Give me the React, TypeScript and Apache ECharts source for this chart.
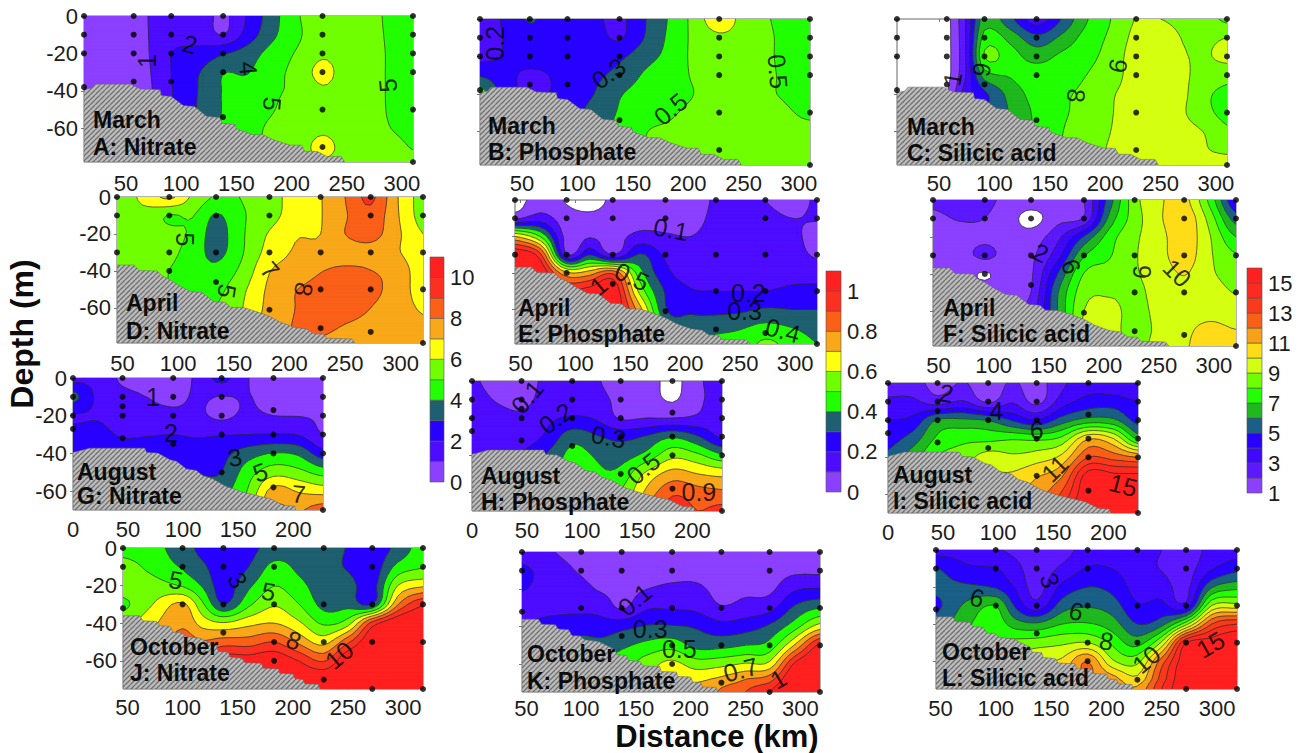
import React, { useEffect, useRef } from "react";
import * as echarts from "echarts";

// ---- scales -------------------------------------------------------------
const nitrateLevels = [0, 1, 2, 3, 4, 5, 6, 7, 8, 9, 10];
const phosphateLevels = [0, 0.1, 0.2, 0.3, 0.4, 0.5, 0.6, 0.7, 0.8, 0.9, 1.0];
const silicicLevels = [1, 2, 3, 4, 5, 6, 7, 8, 9, 10, 11, 12, 13, 14, 15];
const elevenColors = ["#8c40ff", "#4d0cff", "#2800ff", "#1f6070", "#22ff00", "#70ff00", "#ffff10", "#f8a818", "#fa6018", "#fc3020", "#ff2020"];
const fifteenColors = ["#8c40ff", "#5c18ff", "#4008ff", "#2800ff", "#1a5f85", "#1fb81f", "#22ff00", "#70ff00", "#d4ff10", "#ffdc18", "#f8a018", "#f86018", "#fb3a1a", "#fc2a20", "#ff2020"];
const nitrateBarTicks = [0, 2, 4, 6, 8, 10];
const phosphateBarTicks = [0, 0.2, 0.4, 0.6, 0.8, 1];
const silicicBarTicks = [1, 3, 5, 7, 9, 11, 13, 15];

// ---- sampling columns (km) and rows (depth, m) per month ----------------
const marchCols = [12, 35, 57, 74, 91, 115, 138, 160, 183, 205, 228, 250, 270, 290, 310];
const marchDepths = [0, -10, -20, -30, -40, -50, -60, -70, -78];
const aprilCols = [45, 68, 92, 113, 134, 158, 182, 205, 228, 250, 273, 297, 320];
const aprilDepths = [0, -10, -20, -30, -40, -50, -60, -70, -79];
const augustCols = [0, 23, 45, 68, 91, 113, 135, 158, 182, 205, 227];
const augustDepths = [0, -10, -20, -30, -40, -50, -60, -70];
const octoberCols = [46, 73, 100, 118, 137, 160, 183, 205, 228, 250, 272, 295, 318];
const octoberDepths = [0, -10, -20, -30, -40, -50, -60, -70, -75];

const marchTicks = [50, 100, 150, 200, 250, 300];
const augustTicks = [0, 50, 100, 150, 200];
const depthTicks = [0, -20, -40, -60];

// ---- bottom topography ---------------------------------------------------
const marchTerrain = [[12, -39.4], [19, -38.5], [22, -36.4], [54, -36.4], [63, -39], [81, -39.4], [82, -42.5], [91, -43], [102, -47.8], [112, -48.3], [123, -53.6], [135, -54.2], [137, -57.2], [149, -58], [150, -60.2], [165, -63.4], [174, -63.4], [183, -66], [199, -69], [209, -69], [212, -72.3], [223, -72.3], [232, -75], [245, -75], [248, -78], [12, -78]];
const aprilTerrain = [[45, -36.8], [60, -36.8], [65, -39.8], [81, -40], [85, -42.5], [93, -44.9], [100, -47.6], [111, -51.2], [121, -51.5], [132, -56.6], [142, -56.9], [147, -59.6], [159, -59.8], [170.5, -62], [182.5, -64.7], [191.5, -67.7], [205, -70.6], [215.5, -71.4], [221.5, -74], [230.5, -74.2], [233.5, -76.4], [256, -76.8], [259, -79], [45, -79]];
const augustTerrain = [[0, -39.5], [15, -37.2], [65, -37.2], [67, -39.5], [77, -39.8], [88, -43.3], [94, -44.2], [103, -48.2], [112, -49], [118, -51.8], [127, -53.5], [139, -57.5], [154.5, -60.5], [167, -62.3], [179, -64], [191, -67.5], [201.5, -68], [202, -70], [0, -70]];
const octoberTerrain = [[46, -36], [61, -36], [64, -38.7], [76.5, -39], [79, -41.2], [88.6, -41.7], [91.7, -44.8], [99, -45], [103, -47], [116, -48], [131, -52.4], [132.4, -55], [141.5, -55.4], [143, -58], [153.6, -58.6], [156.6, -61], [171.7, -61.3], [173, -64], [187, -64.3], [188, -66.6], [200, -67], [202, -69.6], [209, -70], [211, -72.3], [223, -72.5], [224.5, -75], [46, -75]];

// ---- sampling stations ---------------------------------------------------
const marchStations = [[12, 0], [12, -10], [12, -20], [12, -38], [57, 0], [57, -10], [57, -20], [57, -35], [91, 0], [91, -10], [91, -20], [91, -35], [138, 0], [138, -10], [138, -20], [138, -30], [138, -54], [228, 0], [228, -10], [228, -20], [228, -30], [228, -50], [228, -70], [310, 0], [310, -10], [310, -20], [310, -30], [310, -50], [310, -78]];
const aprilStations = [[45, 0], [45, -10], [45, -30], [92, 0], [92, -10], [92, -30], [92, -40], [134, 0], [134, -10], [134, -30], [134, -46], [182, 0], [182, -10], [182, -30], [182, -61], [228, 0], [228, -30], [228, -50], [228, -71], [273, 0], [273, -10], [273, -30], [273, -50], [273, -73], [320, 0], [320, -10], [320, -30], [320, -50], [320, -79]];
const augustStations = [[0, 0], [0, -10], [0, -20], [0, -27], [45, 0], [45, -10], [45, -15], [45, -20], [45, -32], [91, 0], [91, -10], [91, -20], [91, -35], [135, 0], [135, -10], [135, -20], [135, -30], [135, -50], [182, 0], [182, -17], [182, -30], [182, -40], [182, -58], [227, 0], [227, -10], [227, -20], [227, -30], [227, -40], [227, -70]];
const octoberStations = [[46, 0], [46, -10], [46, -32], [100, 0], [100, -10], [100, -30], [137, 0], [137, -10], [137, -30], [137, -45], [183, 0], [183, -10], [183, -30], [183, -50], [183, -60], [228, 0], [228, -30], [228, -50], [228, -70], [272, 0], [272, -10], [272, -30], [272, -50], [272, -75], [318, 0], [318, -10], [318, -30], [318, -50], [318, -75]];

// ---- concentrations read from the sections --------------------------------
const marchNitrate = [
  [.4, .5, .7, 1.1, 1.5, 1.6, .8, 2.1, 3.6, 4.9, 5.5, 5.5, 5.3, 4.8, 4.5],
  [.4, .5, .7, 1.1, 1.7, 1.7, 1.0, 2.4, 3.8, 4.8, 5.7, 5.5, 5.3, 4.85, 4.5],
  [.4, .5, .7, 1.1, 2.0, 2.25, 2.9, 3.5, 4.4, 5.1, 5.85, 5.5, 5.3, 4.9, 4.6],
  [.4, .5, .7, 1.05, 2.0, 2.9, 3.95, 3.95, 4.7, 5.3, 6.3, 5.5, 5.3, 4.9, 4.6],
  [.4, .5, .7, 1.0, 1.95, 3.0, 4.05, 4.3, 4.85, 5.2, 5.85, 5.5, 5.3, 4.9, 4.6],
  [.4, .5, .7, 1.0, 1.9, 3.05, 4.05, 4.4, 4.95, 5.4, 5.6, 5.5, 5.3, 4.92, 4.7],
  [.4, .5, .7, 1.0, 1.9, 3.0, 4.1, 4.6, 5.2, 5.4, 5.8, 5.5, 5.3, 5.0, 4.8],
  [.4, .5, .7, 1.0, 1.9, 3.0, 4.1, 4.7, 5.2, 5.5, 6.3, 5.6, 5.4, 5.2, 4.97],
  [.4, .5, .7, 1.0, 1.9, 3.0, 4.1, 4.7, 5.2, 5.5, 5.9, 5.6, 5.4, 5.2, 5.1],
];
const marchPhosphate = [
  [.13, .22, .31, .26, .25, .22, .18, .29, .41, .53, .67, .56, .51, .47, .45],
  [.12, .21, .25, .25, .25, .24, .19, .30, .42, .52, .58, .56, .52, .47, .45],
  [.17, .21, .25, .25, .25, .26, .28, .36, .43, .52, .57, .56, .52, .47, .45],
  [.29, .23, .18, .2, .25, .28, .33, .41, .46, .51, .57, .56, .52, .48, .45],
  [.45, .25, .19, .2, .25, .30, .39, .44, .47, .5, .56, .55, .51, .49, .45],
  [.5, .3, .25, .25, .27, .33, .41, .47, .49, .52, .56, .55, .52, .505, .49],
  [.5, .3, .25, .25, .28, .34, .43, .495, .51, .53, .56, .55, .52, .51, .51],
  [.5, .3, .25, .25, .28, .35, .44, .5, .51, .53, .55, .55, .53, .52, .52],
  [.5, .3, .25, .25, .28, .35, .44, .5, .51, .53, .55, .55, .53, .52, .52],
];
const marchSilicic = [
  [.5, .5, .7, 3, 6.5, 5.2, 3.5, 5, 6.9, 8, 9.05, 9, 8.7, 8.4, 7.8],
  [.5, .5, .7, 3, 7.4, 6.6, 5.3, 6.2, 7.4, 8.2, 9.3, 9.6, 8.95, 8.75, 9],
  [.5, .5, .7, 3, 8.05, 7.4, 6.6, 7.2, 7.7, 8.4, 9.5, 9.8, 9.1, 8.9, 9.3],
  [.5, .5, .7, 3, 6.5, 7.1, 7.5, 7.6, 8, 8.6, 9.4, 9.7, 9.2, 8.6, 8.3],
  [.5, .5, .9, 3.5, 4.8, 6.4, 7.4, 7.85, 8.2, 8.9, 9.3, 9.5, 9.2, 8.2, 7.8],
  [.5, .5, .9, 3.5, 5, 6.1, 7.2, 7.85, 8.3, 8.95, 9.3, 9.4, 9.1, 8.3, 7.7],
  [.5, .5, .9, 3.5, 5, 6, 7.2, 7.95, 8.4, 9, 9.3, 9.3, 9.3, 8.95, 8.2],
  [.5, .5, .9, 3.5, 5, 6, 7.2, 8, 8.5, 9.1, 9.3, 9.4, 9.4, 9.05, 8.9],
  [.5, .5, .9, 3.5, 5, 6, 7.2, 8, 8.5, 9.1, 9.3, 9.4, 9.4, 9.2, 9.1],
];
const aprilNitrate = [
  [5.5, 6.2, 7.2, 5.8, 4.9, 5.05, 5.7, 6.3, 6.95, 8, 9.2, 7.05, 5.6],
  [5.4, 5.7, 4.95, 5.05, 3.9, 4.9, 5.6, 6.5, 6.95, 7.9, 8.7, 7.1, 5.6],
  [5.4, 5.5, 5.3, 4.8, 3.6, 4.9, 6.1, 6.9, 7, 8, 8.4, 7.2, 6],
  [5.3, 5.3, 5.2, 4.6, 3.7, 4.95, 6.4, 7.1, 7.3, 7.5, 7.6, 7.1, 6.3],
  [5.3, 5.2, 5, 4.5, 4.3, 5.3, 6.95, 7.4, 7.95, 8.2, 8.02, 7.6, 6.4],
  [5.3, 5.2, 5, 4.6, 4.7, 5.8, 7.2, 7.95, 8.3, 8.5, 8.3, 7.5, 6.6],
  [5.3, 5.2, 5, 4.7, 5, 6, 7.3, 8, 8.4, 8.4, 8, 7.4, 6.9],
  [5.3, 5.2, 5, 4.8, 5, 6.1, 7.5, 8.05, 8.2, 7.95, 7.7, 7.4, 7.15],
  [5.3, 5.2, 5, 4.8, 5, 6.1, 7.5, 8, 7.9, 7.7, 7.6, 7.4, 7.3],
];
const aprilPhosphate = [
  [-.05, .05, -.01, -.05, .02, .03, .05, .06, .11, .12, .1, .07, .11],
  [.08, .15, .04, .03, .04, .06, .07, .07, .12, .13, .12, .1, .105],
  [.7, .5, .06, .09, .06, .13, .11, .1, .13, .14, .13, .12, .07],
  [1.1, .93, .11, .3, .1, .31, .18, .13, .14, .15, .14, .14, .085],
  [1.15, 1.1, .72, .75, .88, .45, .23, .16, .16, .16, .16, .17, .17],
  [1.15, 1.1, 1, 1.05, 1.1, .58, .29, .21, .2, .2, .2, .22, .22],
  [1.15, 1.1, 1.05, 1.1, 1.1, .75, .31, .28, .27, .28, .31, .3, .3],
  [1.15, 1.1, 1.05, 1.1, 1.1, .85, .4, .35, .37, .39, .43, .4, .36],
  [1.15, 1.1, 1.05, 1.1, 1.1, .9, .45, .4, .43, .44, .52, .46, .4],
];
const aprilSilicic = [
  [2.2, 2.4, 2.2, 1.8, 1.6, 1.6, 2, 5.5, 8.6, 9.8, 10.3, 7.6, 4],
  [1.8, 2.05, 2, 1.5, .6, 1.7, 2.1, 6.3, 8.5, 9.8, 10.7, 8.5, 5.5],
  [1.7, 1.7, 1.8, 1.6, 1.5, 2.7, 5.1, 7.5, 8.8, 9.6, 10.6, 9, 7],
  [1.6, 1.6, 2.2, 1.7, 1.8, 3.6, 6.9, 7.9, 8.9, 9.6, 10.5, 9.1, 8.1],
  [1.6, 1.5, .9, 1.6, 1.85, 5, 8.05, 8.4, 8.9, 9.4, 10.05, 9.15, 8.6],
  [1.6, 1.5, 1.5, 1.6, 2, 5.9, 8.6, 8.9, 8.8, 9.3, 9.6, 9.4, 8.95],
  [1.6, 1.5, 1.5, 1.7, 2.5, 6, 9, 9.2, 8.8, 9.2, 9.6, 9.7, 9.4],
  [1.6, 1.5, 1.5, 1.7, 2.5, 6.1, 9.2, 9.2, 8.8, 9.15, 9.8, 10.2, 10],
  [1.6, 1.5, 1.5, 1.7, 2.5, 6.1, 9.2, 9.2, 8.9, 9.2, 9.9, 10.3, 10.3],
];
const augustNitrate = [
  [1.7, 1.7, .8, .6, .5, 1.2, 2.3, 1.05, .6, .6, .6],
  [3.3, 1.75, 1.3, .98, .7, 1.15, .95, 1.05, .65, .6, .7],
  [1.9, 1.9, 1.5, 1.4, 1.3, 1.2, .8, 1.2, 1, .97, .9],
  [2.4, 2.3, 1.9, 1.95, 2, 1.9, 1.95, 2, 2.05, 1.95, 1],
  [2.7, 2.6, 2.5, 2.4, 2.4, 2.4, 2.7, 3.5, 4.05, 3.8, 2.4],
  [2.8, 2.7, 2.5, 2.5, 2.5, 2.95, 3, 4.5, 5.6, 5.3, 4.6],
  [2.8, 2.7, 2.6, 2.6, 2.6, 3, 3.6, 5, 7.4, 6.9, 6.6],
  [2.8, 2.7, 2.6, 2.6, 2.6, 3, 3.6, 5.5, 8, 7.9, 8.5],
];
const augustPhosphate = [
  [.12, .05, .06, .12, .15, .11, .05, .05, -.03, .08, .15],
  [.15, .09, .07, .14, .17, .14, .07, .05, -.01, .08, .14],
  [.16, .14, .12, .18, .21, .19, .09, .1, .1, .12, .17],
  [.17, .16, .15, .22, .36, .31, .27, .31, .39, .31, .18],
  [.2, .19, .21, .31, .43, .39, .36, .43, .57, .52, .42],
  [.2, .2, .25, .35, .43, .41, .43, .62, .74, .7, .67],
  [.2, .2, .25, .35, .43, .43, .5, .72, .88, .84, .82],
  [.2, .2, .25, .35, .43, .43, .5, .8, .95, .9, .93],
];
const augustSilicic = [
  [2.5, 2.4, 1.6, 2.05, 1.5, 2.1, 1.6, 2.8, 3.6, 3.3, 3.1],
  [3.2, 3.2, 2.5, 3.1, 1.8, 2.9, 1.7, 3.5, 4.4, 4.5, 4],
  [4, 4.3, 6.1, 6.2, 5.95, 4.9, 4.1, 5.5, 6.4, 6.2, 4.6],
  [4.6, 5.5, 7.2, 7.7, 7.7, 7.9, 7.8, 8.3, 10.9, 10, 6.8],
  [5.2, 6.6, 8, 8.5, 9.5, 9.2, 9.5, 10.3, 13, 12.6, 12],
  [5.3, 7, 8, 9, 10, 10.2, 10.9, 11.9, 15.6, 15.3, 15.3],
  [5.4, 7, 8, 9, 10, 11, 11.5, 13.2, 16, 16, 16.2],
  [5.5, 7, 8, 9, 10, 11, 12, 14, 16.5, 16, 16.5],
];
const octoberNitrate = [
  [4.6, 4.3, 3.5, 2.7, 2.3, 2.7, 3.4, 3.5, 3.3, 2.95, 2.4, 3.3, 4.5],
  [5.4, 4.7, 3.9, 3.2, 2.4, 3, 4.3, 3.8, 3.4, 2.9, 2.4, 4.3, 4.9],
  [5.5, 5.4, 4.9, 3.9, 2.5, 3.8, 4.98, 4.3, 3.5, 3.4, 2.6, 6, 6.8],
  [4.8, 6, 7.2, 5.2, 3, 4.8, 5.9, 5.05, 3.7, 3.7, 3, 7.9, 9.9],
  [5.5, 6.8, 7.8, 6.6, 6.1, 6.7, 7, 6.2, 4.85, 5.6, 9.4, 11, 11],
  [5.5, 7, 8.5, 8.1, 8.5, 8.5, 9, 7.8, 6.65, 8.8, 11, 11, 11],
  [5.5, 7, 9, 9, 10.5, 10.5, 10.8, 10, 8.9, 11, 11, 11, 11],
  [5.5, 7, 9, 9, 10.5, 10.5, 11, 11, 11, 11, 11, 11, 11],
  [5.5, 7, 9, 9, 10.5, 10.5, 11, 11, 11, 11, 11, 11, 11],
];
const octoberPhosphate = [
  [.16, .105, .07, .06, .05, .05, .05, .05, .05, .05, .05, .04, .05],
  [.22, .15, .09, .07, .06, .07, .07, .07, .06, .06, .06, .08, .08],
  [.205, .16, .13, .09, .07, .1, .12, .12, .07, .08, .08, .19, .21],
  [.16, .17, .18, .17, .09, .19, .19, .18, .11, .14, .17, .32, .4],
  [.2, .25, .25, .24, .27, .31, .31, .29, .24, .26, .32, .46, .65],
  [.2, .3, .35, .34, .38, .43, .46, .37, .37, .4, .44, .71, 1.03],
  [.2, .3, .35, .4, .45, .55, .63, .55, .57, .61, .63, 1.02, 1.15],
  [.2, .3, .35, .4, .45, .55, .7, .7, .75, .83, .9, 1.15, 1.15],
  [.2, .3, .35, .4, .45, .55, .7, .7, .82, .9, 1.0, 1.15, 1.15],
];
const octoberSilicic = [
  [3.6, 3.6, 3.1, 2.8, 2.4, 2.6, 3.4, 3.4, 3.2, 3, 2.5, 3.3, 3.6],
  [5.05, 4.2, 4.05, 3.3, 2.5, 3.2, 4.1, 4, 3.4, 2.95, 2.6, 3.9, 4.7],
  [5.2, 5.2, 4.9, 3.9, 2.6, 4.3, 5, 4.7, 3.6, 3.5, 2.7, 5.9, 6.7],
  [4.8, 6.2, 7, 4.8, 3.4, 5.5, 5.9, 5.5, 4.1, 4.3, 3.4, 9, 9.4],
  [5.3, 6.8, 7.5, 6.5, 6.2, 7, 7.1, 6.5, 5, 5.7, 8.7, 13, 14],
  [5.3, 7, 8, 8.3, 8.5, 8.8, 9, 7.8, 6.6, 9.2, 15, 15.5, 16],
  [5.3, 7, 8, 9, 10, 10.2, 12, 9.2, 8.7, 12.5, 15.8, 16, 16],
  [5.3, 7, 8, 9, 11, 11, 12, 11.5, 10.3, 13.5, 16, 16, 16],
  [5.3, 7, 8, 9, 11, 11, 12, 11.5, 11.2, 14, 16, 16, 16],
];

// ---- contour labels: text, km, depth, rotation ---------------------------
const labelsA = [["1", 69, -24, 90], ["2", 108, -15, -15], ["4", 161, -28, -85], ["5", 182.5, -47, -95], ["5", 287, -37, 95]];
const labelsB = [["0.2", 25.5, -13, 90], ["0.3", 128, -29, 35], ["0.5", 184, -48, 40], ["0.5", 281, -28, -85]];
const labelsC = [["1", 62, -32, 80], ["6", 89, -27, -100], ["8", 174, -41, -95], ["9", 212, -25, -100]];
const labelsD = [["5", 106, -23, -90], ["7", 182.5, -39.5, -50], ["8", 213, -50, -100], ["5", 144, -51, -100]];
const labelsE = [["0.1", 187, -16, -10], ["0.5", 151.5, -42, -25], ["1", 121, -47, 40], ["0.2", 257.5, -51, 0], ["0.3", 254, -61, 0], ["0.4", 289, -71.5, -15]];
const labelsF = [["2", 143, -28.6, -25], ["6", 170.6, -36, -70], ["9", 235, -39, -90], ["10", 266.7, -39.5, -45]];
const labelsG = [["1", 72.7, -10, 0], ["2", 89, -29, 0], ["3", 147, -42, 10], ["5", 170, -50, 20], ["7", 205, -61.5, -5]];
const labelsH = [["0.1", 50, -8.5, 50], ["0.2", 76, -20, 35], ["0.3", 124, -30, -10], ["0.5", 155.5, -47, 40], ["0.9", 206, -60, 0]];
const labelsI = [["2", 53, -5.4, -10], ["4", 98.5, -15, 0], ["6", 135, -25.5, 0], ["11", 151.5, -46, 45], ["15", 213.6, -55, -15]];
const labelsJ = [["5", 94, -17, -10], ["3", 150, -17, -60], ["5", 178, -23, -10], ["8", 201, -49, -20], ["10", 242, -57, 40]];
const labelsK = [["0.1", 149, -25.5, 40], ["0.3", 163, -41, 0], ["0.5", 189.6, -52, 0], ["0.7", 245.7, -63, 15], ["1", 280, -68, 30]];
const labelsL = [["3", 149, -16.4, -70], ["6", 83, -25.7, -15], ["6", 172.7, -33, -15], ["8", 200, -49, -10], ["10", 236, -59, 40], ["15", 294, -51, 30]];

const month = (cols: number[], depths: number[], terrain: number[][], stations: number[][], ticks: number[]) => ({ cols, depths, terrain, stations, ticks });
const march = month(marchCols, marchDepths, marchTerrain, marchStations, marchTicks);
const april = month(aprilCols, aprilDepths, aprilTerrain, aprilStations, marchTicks);
const august = month(augustCols, augustDepths, augustTerrain, augustStations, augustTicks);
const october = month(octoberCols, octoberDepths, octoberTerrain, octoberStations, marchTicks);
const nitrate = { levels: nitrateLevels, colors: elevenColors };
const phosphate = { levels: phosphateLevels, colors: elevenColors };
const silicic = { levels: silicicLevels, colors: fifteenColors };

const panels: any[] = [
  { m: march, s: nitrate, v: marchNitrate, labels: labelsA, title: ["March", "A: Nitrate"], box: [84, 16, 329, 146], tx: [93, 120, 147], mg: 10, yLab: true },
  { m: march, s: phosphate, v: marchPhosphate, labels: labelsB, title: ["March", "B: Phosphate"], box: [480, 19, 330, 146], tx: [488, 126, 152], mg: 7 },
  { m: march, s: silicic, v: marchSilicic, labels: labelsC, title: ["March", "C: Silicic acid"], box: [897, 19, 330, 146], tx: [907, 127, 153], mg: 7 },
  { m: april, s: nitrate, v: aprilNitrate, labels: labelsD, title: ["April", "D: Nitrate"], box: [117, 197, 306, 146], tx: [126, 303, 331], mg: 9, yLab: true },
  { m: april, s: phosphate, v: aprilPhosphate, labels: labelsE, title: ["April", "E: Phosphate"], box: [515, 200, 302, 144], tx: [518, 308, 334], mg: 8 },
  { m: april, s: silicic, v: aprilSilicic, labels: labelsF, title: ["April", "F: Silicic acid"], box: [933, 200, 303, 146], tx: [943, 308, 334], mg: 8 },
  { m: august, s: nitrate, v: augustNitrate, labels: labelsG, title: ["August", "G: Nitrate"], box: [73, 378, 250, 132], tx: [77, 472, 496], mg: 8, yLab: true },
  { m: august, s: phosphate, v: augustPhosphate, labels: labelsH, title: ["August", "H: Phosphate"], box: [472, 381, 250, 130], tx: [481, 476, 502], mg: 8 },
  { m: august, s: silicic, v: augustSilicic, labels: labelsI, title: ["August", "I: Silicic acid"], box: [888, 383, 250, 130], tx: [893, 475, 501], mg: 8 },
  { m: october, s: nitrate, v: octoberNitrate, labels: labelsJ, title: ["October", "J: Nitrate"], box: [123, 548, 300, 141], tx: [130, 647, 673], mg: 7, yLab: true },
  { m: october, s: phosphate, v: octoberPhosphate, labels: labelsK, title: ["October", "K: Phosphate"], box: [522, 552, 298, 140], tx: [527, 654, 681], mg: 5 },
  { m: october, s: silicic, v: octoberSilicic, labels: labelsL, title: ["October", "L: Silicic acid"], box: [936, 550, 301, 139], tx: [942, 652, 678], mg: 8 },
];

const colorBars: any[] = [
  { s: nitrate, max: 11, min: 0, ticks: nitrateBarTicks, box: [430, 257, 14, 225] },
  { s: phosphate, max: 1.1, min: 0, ticks: phosphateBarTicks, box: [826, 271, 15, 221] },
  { s: silicic, max: 16, min: 1, ticks: silicicBarTicks, box: [1247, 268, 15, 225] },
];

// ---- drawing helpers -----------------------------------------------------
const FINE = 5;
const FONT = '"Liberation Sans", Arial, sans-serif';

function smooth(a: number[]) {
  const out: number[] = [];
  const n = a.length;
  for (let k = 0; k < n - 1; k++) {
    const p0 = a[Math.max(k - 1, 0)], p1 = a[k], p2 = a[k + 1], p3 = a[Math.min(k + 2, n - 1)];
    for (let q = 0; q < FINE; q++) {
      const t = q / FINE;
      out.push(0.5 * (2 * p1 + (p2 - p0) * t + (2 * p0 - 5 * p1 + 4 * p2 - p3) * t * t + (3 * p1 - p0 - 3 * p2 + p3) * t * t * t));
    }
  }
  out.push(a[n - 1]);
  return out;
}
function linear(a: number[]) {
  const out: number[] = [];
  for (let k = 0; k < a.length - 1; k++) for (let q = 0; q < FINE; q++) out.push(a[k] + ((a[k + 1] - a[k]) * q) / FINE);
  out.push(a[a.length - 1]);
  return out;
}
function refine(v: number[][]) {
  const rows = v.map(smooth);
  const nc = rows[0].length;
  const colsOut: number[][] = [];
  for (let j = 0; j < nc; j++) colsOut.push(smooth(rows.map((r) => r[j])));
  const nr = colsOut[0].length;
  const f: number[][] = [];
  for (let i = 0; i < nr; i++) {
    const row: number[] = [];
    for (let j = 0; j < nc; j++) row.push(colsOut[j][i]);
    f.push(row);
  }
  return f;
}
const r1 = (n: number) => Math.round(n * 10) / 10;

function bandPath(f: number[][], px: number[], py: number[], L: number) {
  const parts: string[] = [];
  for (let i = 0; i < f.length - 1; i++) {
    let run = -1;
    const flush = (end: number) => {
      if (run >= 0) {
        parts.push(`M${r1(px[run])} ${r1(py[i])}L${r1(px[end])} ${r1(py[i])}L${r1(px[end])} ${r1(py[i + 1])}L${r1(px[run])} ${r1(py[i + 1])}Z`);
        run = -1;
      }
    };
    for (let j = 0; j < f[0].length - 1; j++) {
      const a = f[i][j], b = f[i][j + 1], c = f[i + 1][j + 1], d = f[i + 1][j];
      if (a >= L && b >= L && c >= L && d >= L) {
        if (run < 0) run = j;
        continue;
      }
      flush(j);
      if (a < L && b < L && c < L && d < L) continue;
      const x0 = px[j], x1 = px[j + 1], y0 = py[i], y1 = py[i + 1];
      const pts: number[][] = [];
      if (a >= L) pts.push([x0, y0]);
      if (a >= L !== b >= L) pts.push([x0 + ((L - a) / (b - a)) * (x1 - x0), y0]);
      if (b >= L) pts.push([x1, y0]);
      if (b >= L !== c >= L) pts.push([x1, y0 + ((L - b) / (c - b)) * (y1 - y0)]);
      if (c >= L) pts.push([x1, y1]);
      if (c >= L !== d >= L) pts.push([x1 + ((L - c) / (d - c)) * (x0 - x1), y1]);
      if (d >= L) pts.push([x0, y1]);
      if (d >= L !== a >= L) pts.push([x0, y1 + ((L - d) / (a - d)) * (y0 - y1)]);
      parts.push("M" + pts.map((p) => `${r1(p[0])} ${r1(p[1])}`).join("L") + "Z");
    }
    flush(f[0].length - 1);
  }
  return parts.join("");
}
function linePath(f: number[][], px: number[], py: number[], L: number) {
  const parts: string[] = [];
  for (let i = 0; i < f.length - 1; i++) {
    for (let j = 0; j < f[0].length - 1; j++) {
      const a = f[i][j], b = f[i][j + 1], c = f[i + 1][j + 1], d = f[i + 1][j];
      const x0 = px[j], x1 = px[j + 1], y0 = py[i], y1 = py[i + 1];
      const pts: number[][] = [];
      if (a >= L !== b >= L) pts.push([x0 + ((L - a) / (b - a)) * (x1 - x0), y0]);
      if (b >= L !== c >= L) pts.push([x1, y0 + ((L - b) / (c - b)) * (y1 - y0)]);
      if (c >= L !== d >= L) pts.push([x1 + ((L - c) / (d - c)) * (x0 - x1), y1]);
      if (d >= L !== a >= L) pts.push([x0, y1 + ((L - d) / (a - d)) * (y0 - y1)]);
      for (let k = 0; k + 1 < pts.length; k += 2) {
        parts.push(`M${r1(pts[k][0])} ${r1(pts[k][1])}L${r1(pts[k + 1][0])} ${r1(pts[k + 1][1])}`);
      }
    }
  }
  return parts.join("");
}
function hatch() {
  const c = document.createElement("canvas");
  c.width = 5;
  c.height = 5;
  const g = c.getContext("2d")!;
  g.fillStyle = "#bcbcbc";
  g.fillRect(0, 0, 5, 5);
  g.strokeStyle = "#707070";
  g.lineWidth = 1.3;
  for (const o of [-5, 0, 5]) {
    g.beginPath();
    g.moveTo(o, 5);
    g.lineTo(o + 5, 0);
    g.stroke();
  }
  return c;
}

function buildOption() {
  const grids: any[] = [], xAxes: any[] = [], yAxes: any[] = [], series: any[] = [], elements: any[] = [];
  const pattern = { image: hatch(), repeat: "repeat", imageWidth: 5, imageHeight: 5 };
  const tick = { fontFamily: FONT, fontSize: 22, color: "#1c1c1c" };

  panels.forEach((p, i) => {
    const [left, top, width, height] = p.box;
    const m = p.m;
    grids.push({ left, top, width, height, show: true, borderColor: "#666", borderWidth: 1, backgroundColor: "#fff" });
    xAxes.push({
      type: "value", gridIndex: i, min: m.cols[0], max: m.cols[m.cols.length - 1], splitLine: { show: false }, axisLine: { show: false },
      axisTick: { show: true, length: 3, lineStyle: { color: "#777" }, customValues: m.ticks },
      axisLabel: { ...tick, margin: p.mg, customValues: m.ticks },
    });
    yAxes.push({
      type: "value", gridIndex: i, min: m.depths[m.depths.length - 1], max: 0, splitLine: { show: false }, axisLine: { show: false },
      axisTick: { show: true, length: 3, lineStyle: { color: "#777" }, customValues: depthTicks },
      axisLabel: { ...tick, show: !!p.yLab, margin: 6, customValues: depthTicks },
    });
    const field = refine(p.v);
    const fx = linear(m.cols), fy = linear(m.depths);
    let px: number[] | null = null, py: number[] | null = null;
    const coords = (api: any) => {
      if (!px) {
        px = fx.map((x: number) => api.coord([x, 0])[0]);
        py = fy.map((y: number) => api.coord([m.cols[0], y])[1]);
      }
      return [px, py!] as [number[], number[]];
    };
    const levelData = p.s.levels.map((_: number, k: number) => [k, 0]);
    series.push({
      type: "custom", xAxisIndex: i, yAxisIndex: i, clip: true, silent: true, z: 2, data: levelData,
      renderItem: (_: any, api: any) => {
        const k = api.value(0);
        const [ax, ay] = coords(api);
        const d = bandPath(field, ax, ay, p.s.levels[k]);
        const color = p.s.colors[k];
        return { type: "path", shape: { pathData: d || "M0 0" }, style: { fill: color, stroke: color, lineWidth: 0.4 } };
      },
    });
    series.push({
      type: "custom", xAxisIndex: i, yAxisIndex: i, clip: true, silent: true, z: 3, data: levelData,
      renderItem: (_: any, api: any) => {
        const k = api.value(0);
        const [ax, ay] = coords(api);
        const d = linePath(field, ax, ay, p.s.levels[k]);
        return { type: "path", shape: { pathData: d || "M0 0" }, style: { fill: null, stroke: "#2a2a2a", lineWidth: 0.7 } };
      },
    });
    series.push({
      type: "custom", xAxisIndex: i, yAxisIndex: i, clip: true, silent: true, z: 4, data: m.terrain,
      renderItem: (params: any, api: any) => {
        if (params.dataIndex !== 0) return null;
        const pts = m.terrain.map((q: number[]) => api.coord(q));
        return { type: "polygon", shape: { points: pts }, style: { fill: pattern, stroke: "#666", lineWidth: 0.5 } };
      },
    });
    series.push({
      type: "scatter", xAxisIndex: i, yAxisIndex: i, clip: false, silent: true, z: 5, symbol: "circle", symbolSize: 6,
      itemStyle: { color: "#000" }, data: m.stations,
    });
    series.push({
      type: "scatter", xAxisIndex: i, yAxisIndex: i, clip: false, silent: true, z: 6, symbolSize: 1,
      itemStyle: { color: "transparent" },
      labelLayout: { hideOverlap: false },
      data: p.labels.map((l: any[]) => ({
        value: [l[1], l[2]],
        label: { show: true, position: "inside", formatter: l[0], rotate: l[3], fontFamily: FONT, fontSize: 25, color: "#000" },
      })),
    });
    p.title.forEach((t: string, k: number) => {
      elements.push({
        type: "text", z: 100, x: p.tx[0], y: p.tx[k + 1],
        style: { text: t, font: `bold 23px ${FONT}`, fill: "#0c0c0c", verticalAlign: "middle", align: "left" },
      });
    });
  });

  colorBars.forEach((b, n) => {
    const i = panels.length + n;
    const [left, top, width, height] = b.box;
    grids.push({ left, top, width, height, show: false });
    xAxes.push({ type: "value", gridIndex: i, min: 0, max: 1, show: false });
    yAxes.push({
      type: "value", gridIndex: i, min: b.min, max: b.max, position: "right", splitLine: { show: false }, axisLine: { show: false },
      axisTick: { show: false }, axisLabel: { ...tick, margin: 6, customValues: b.ticks },
    });
    const lv = b.s.levels;
    const step = lv[1] - lv[0];
    series.push({
      type: "custom", xAxisIndex: i, yAxisIndex: i, silent: true, z: 2, data: lv.map((l: number) => [0, l]),
      renderItem: (params: any, api: any) => {
        const l = api.value(1);
        const a = api.coord([0, l + step]);
        const c = api.coord([1, l]);
        return {
          type: "rect", shape: { x: a[0], y: a[1], width: c[0] - a[0], height: c[1] - a[1] },
          style: { fill: b.s.colors[params.dataIndex], stroke: "#555", lineWidth: 0.6 },
        };
      },
    });
  });

  elements.push({
    type: "text", z: 100, x: 22, y: 334, rotation: Math.PI / 2,
    style: { text: "Depth (m)", font: `bold 32px ${FONT}`, fill: "#0c0c0c", align: "center", verticalAlign: "middle" },
  });
  elements.push({
    type: "text", z: 100, x: 717, y: 736,
    style: { text: "Distance (km)", font: `bold 31px ${FONT}`, fill: "#0c0c0c", align: "center", verticalAlign: "middle" },
  });

  return { animation: false, backgroundColor: "#fff", tooltip: { show: false }, grid: grids, xAxis: xAxes, yAxis: yAxes, series, graphic: { elements } };
}

export default function App() {
  const ref = useRef<HTMLDivElement>(null);
  useEffect(() => {
    document.body.style.margin = "0";
    const chart = echarts.init(ref.current!, null, { renderer: "svg", width: 1304, height: 753 });
    chart.setOption(buildOption() as any);
    return () => chart.dispose();
  }, []);
  return <div ref={ref} style={{ width: 1304, height: 753 }} />;
}
